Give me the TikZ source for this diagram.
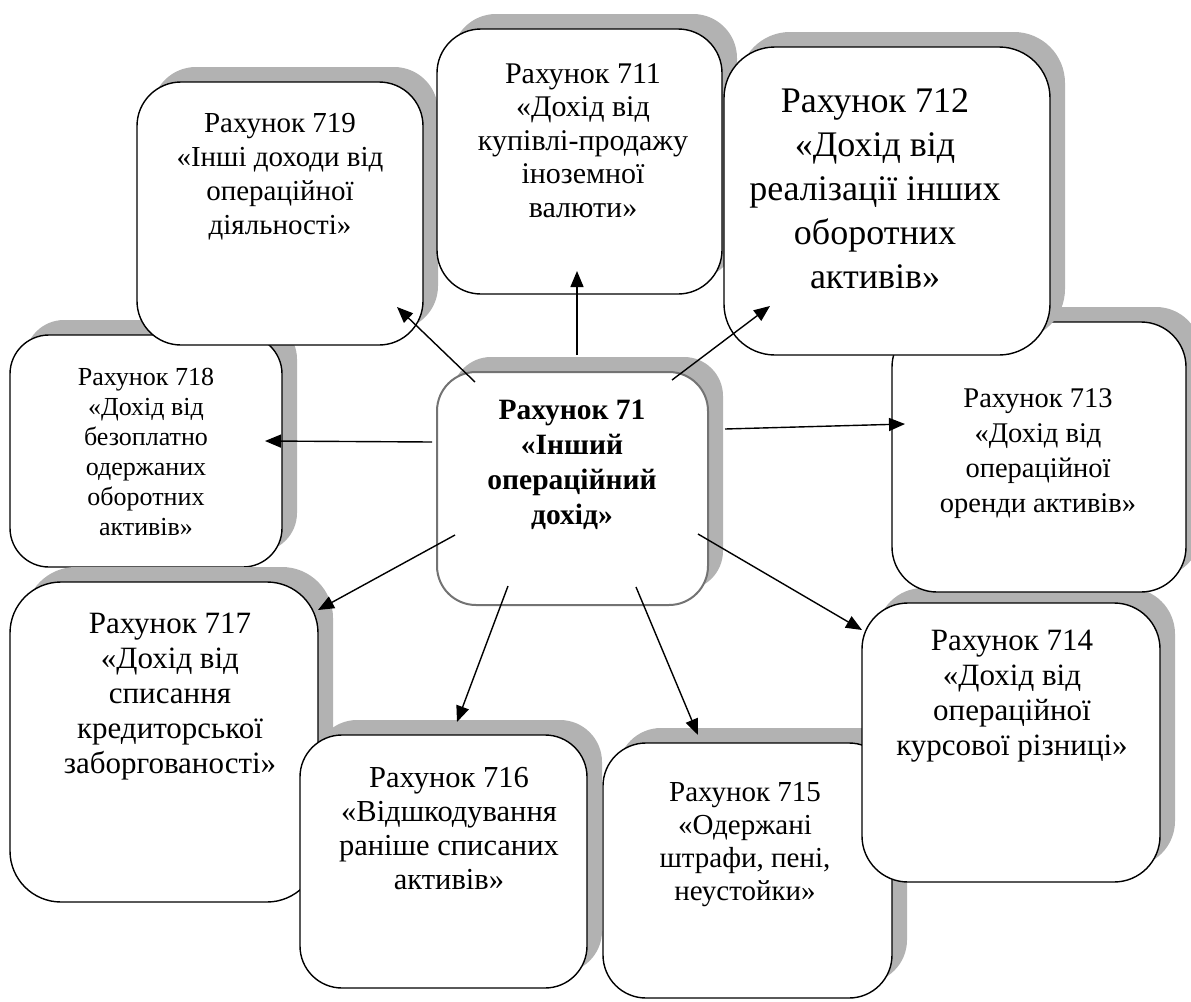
\documentclass[tikz,border=0pt]{standalone}
\usepackage{fontspec}
\setmainfont{Liberation Serif}
\usetikzlibrary{arrows.meta,shadows}
\definecolor{shadegray}{gray}{0.70}
\definecolor{mainedge}{gray}{0.45}
\tikzset{
  box/.style={rectangle, draw=black, line width=1.4pt, fill=white, inner sep=0pt,
    drop shadow={shadow xshift=15pt, shadow yshift=15pt, fill=shadegray, opacity=1}},
  lbl/.style={align=center, inner sep=0pt, anchor=north},
  arr/.style={line width=1.4pt, -{Triangle[length=16pt,width=13pt]}}
}
% place a rounded box by its corners: x1,y1,x2,y2 in page units
\newcommand{\acctbox}[6]{%
  \node[box, rounded corners=#6, minimum width={#4-#2}, minimum height={#5-#3}]
    (#1) at ({(#2+#4)/2},{(#3+#5)/2}) {};}
\begin{document}
\begin{tikzpicture}[x=1pt,y=-1pt]
\useasboundingbox (0,0) rectangle (1191,1001);
\clip (0,0) rectangle (1191,1001);

% surrounding account boxes, back to front
\acctbox{b718}{10}{335}{282}{567}{39pt}
\node[lbl, font=\fontsize{26}{30}\selectfont] (t718) at (146,368.4)
  {Рахунок 718\\«Дохід від\\безоплатно\\одержаних\\оборотних\\активів»};

\acctbox{b719}{137}{82}{423}{345}{44pt}
\node[lbl, font=\fontsize{29}{34}\selectfont] (t719) at (280,113.4)
  {Рахунок 719\\«Інші доходи від\\операційної\\діяльності»};

\acctbox{b711}{437}{29}{722}{294}{44pt}
\node[lbl, font=\fontsize{30}{33.5}\selectfont] (t711) at (583,63)
  {Рахунок 711\\«Дохід від\\купівлі-продажу\\іноземної\\валюти»};

\acctbox{b715}{603}{743}{892}{998}{43pt}
\node[lbl, font=\fontsize{29}{33}\selectfont] (t715) at (745,782.4)
  {Рахунок 715\\«Одержані\\штрафи, пені,\\неустойки»};

\acctbox{b714}{862}{603}{1160}{882}{46pt}
\node[lbl, font=\fontsize{31}{35}\selectfont] (t714) at (1012,630)
  {Рахунок 714\\«Дохід від\\операційної\\курсової різниці»};

\acctbox{b713}{892}{322}{1186}{592}{45pt}
\node[lbl, font=\fontsize{28.5}{35}\selectfont] (t713) at (1038,388.6)
  {Рахунок 713\\«Дохід від\\операційної\\оренди активів»};

\acctbox{b712}{724}{47}{1050}{355}{51pt}
\node[lbl, font=\fontsize{36}{44}\selectfont] (t712) at (875,88)
  {Рахунок 712\\«Дохід від\\реалізації інших\\оборотних\\активів»};

\acctbox{b717}{10}{582}{318}{902}{51pt}
\node[lbl, font=\fontsize{31}{35}\selectfont] (t717) at (170,613)
  {Рахунок 717\\«Дохід від\\списання\\кредиторської\\заборгованості»};

\acctbox{b716}{300}{735}{587}{988}{42pt}
\node[lbl, font=\fontsize{30.5}{34}\selectfont] (t716) at (449,767)
  {Рахунок 716\\«Відшкодування\\раніше списаних\\активів»};

% central account
\node[box, draw=mainedge, line width=2pt, rounded corners=39pt,
      minimum width=271, minimum height=233] (b71) at (572.5,488.5) {};
\node[lbl, font=\fontsize{29.5}{35}\selectfont\bfseries] (t71) at (572,400)
  {Рахунок 71\\«Інший\\операційний\\дохід»};

% arrow end points
\coordinate (s719) at (475,382); \coordinate (e719) at (397,307);
\coordinate (s711) at (577,355); \coordinate (e711) at (577,271);
\coordinate (s712) at (672,380); \coordinate (e712) at (770,306);
\coordinate (s713) at (725,429); \coordinate (e713) at (905,424);
\coordinate (s718) at (432,442); \coordinate (e718) at (265,441);
\coordinate (s717) at (455,535); \coordinate (e717) at (318,610);
\coordinate (s716) at (508,586); \coordinate (e716) at (457,722);
\coordinate (s715) at (636,587); \coordinate (e715) at (698,735);
\coordinate (s714) at (698,534); \coordinate (e714) at (862,630);

\foreach \k in {719,711,712,713,718,717,716,715,714}
  \draw[arr] (s\k) -- (e\k);
\end{tikzpicture}
\end{document}
